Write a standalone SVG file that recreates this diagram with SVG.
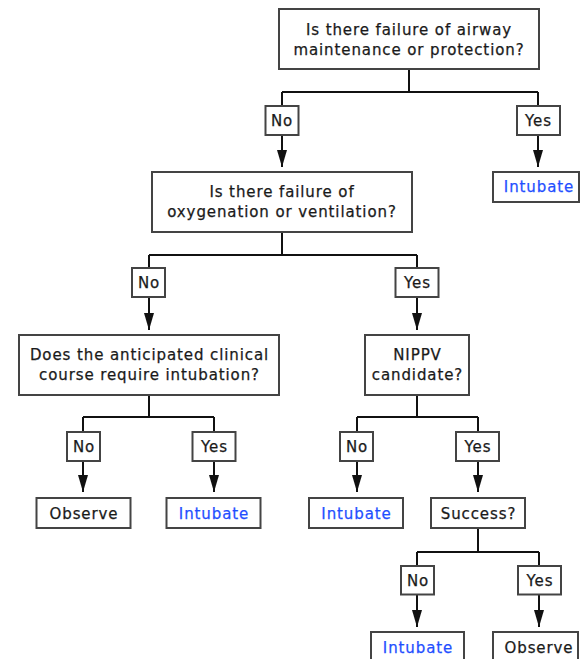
<svg xmlns="http://www.w3.org/2000/svg" width="582" height="659" viewBox="0 0 582 659">
<style>
  .box { fill: #fff; stroke: #444; stroke-width: 2; }
  .t { font-family: "DejaVu Sans", Verdana, sans-serif; font-size: 15px; letter-spacing: 0.9px; fill: #1a1a1a; stroke: #1a1a1a; stroke-width: 0.25px; text-anchor: middle; }
  .blue { fill: #1f4fff; stroke: #1f4fff; }
  .c { fill: none; stroke: #111; stroke-width: 2; }
  .a { fill: none; stroke: #111; stroke-width: 2; marker-end: url(#ah); }
</style>
<defs>
  <marker id="ah" viewBox="0 0 17 10" refX="17" refY="5" markerWidth="17" markerHeight="10" markerUnits="userSpaceOnUse" orient="auto">
    <path d="M0,0 L17,5 L0,10 z" fill="#111"/>
  </marker>
</defs>
<rect width="582" height="659" fill="#fff"/>
<g id="connectors">
  <path class="c" d="M409,69 V92 M282,92 H538 M282,92 V106 M538,92 V106"/>
  <path class="a" d="M282,135 V167"/>
  <path class="a" d="M538,135 V167"/>
  <path class="c" d="M282,232 V255 M149,255 H417 M149,255 V268 M417,255 V268"/>
  <path class="a" d="M149,297 V330"/>
  <path class="a" d="M417,297 V330"/>
  <path class="c" d="M149,395 V417 M83,417 H214 M83,417 V432 M214,417 V432"/>
  <path class="a" d="M83,461 V492"/>
  <path class="a" d="M214,461 V492"/>
  <path class="c" d="M417,395 V417 M357,417 H478 M357,417 V432 M478,417 V432"/>
  <path class="a" d="M357,461 V492"/>
  <path class="a" d="M478,461 V492"/>
  <path class="c" d="M478,528 V552 M417,552 H539 M417,552 V566 M539,552 V566"/>
  <path class="a" d="M417,594 V627"/>
  <path class="a" d="M539,594 V627"/>
</g>
<g id="q1">
  <rect class="box" x="279" y="9" width="260" height="60"/>
  <text class="t" x="409" y="35">Is there failure of airway</text>
  <text class="t" x="409" y="55">maintenance or protection?</text>
</g>
<g id="l1no"><rect class="box" x="265.5" y="106" width="33" height="29"/><text class="t" x="282" y="125.5">No</text></g>
<g id="l1yes"><rect class="box" x="517" y="106" width="43" height="29"/><text class="t" x="538.5" y="125.5">Yes</text></g>
<g id="r1">
  <rect class="box" x="493" y="172" width="86" height="30"/>
  <text class="t blue" x="539" y="192">Intubate</text>
</g>
<g id="q2">
  <rect class="box" x="152" y="172" width="260" height="60"/>
  <text class="t" x="282" y="197">Is there failure of</text>
  <text class="t" x="282" y="217">oxygenation or ventilation?</text>
</g>
<g id="l2no"><rect class="box" x="132" y="268" width="33" height="29"/><text class="t" x="149" y="288">No</text></g>
<g id="l2yes"><rect class="box" x="395.5" y="268" width="43" height="29"/><text class="t" x="417.5" y="288">Yes</text></g>
<g id="q3">
  <rect class="box" x="19" y="335" width="260" height="60"/>
  <text class="t" x="149.5" y="360">Does the anticipated clinical</text>
  <text class="t" x="149.5" y="380">course require intubation?</text>
</g>
<g id="q4">
  <rect class="box" x="365" y="335" width="104" height="60"/>
  <text class="t" x="417.5" y="360">NIPPV</text>
  <text class="t" x="417.5" y="380">candidate?</text>
</g>
<g id="l3no"><rect class="box" x="67" y="432" width="33" height="29"/><text class="t" x="84" y="452">No</text></g>
<g id="l3yes"><rect class="box" x="192.5" y="432" width="43" height="29"/><text class="t" x="214.5" y="452">Yes</text></g>
<g id="l4no"><rect class="box" x="340" y="432" width="33" height="29"/><text class="t" x="357" y="452">No</text></g>
<g id="l4yes"><rect class="box" x="456" y="432" width="43" height="29"/><text class="t" x="478" y="452">Yes</text></g>
<g id="r2"><rect class="box" x="36.5" y="498" width="94" height="30"/><text class="t" x="84" y="518.5">Observe</text></g>
<g id="r3"><rect class="box" x="166.5" y="498" width="94" height="30"/><text class="t blue" x="214" y="518.5">Intubate</text></g>
<g id="r4"><rect class="box" x="309" y="498" width="94" height="30"/><text class="t blue" x="356.5" y="518.5">Intubate</text></g>
<g id="q5"><rect class="box" x="431" y="498" width="94" height="30"/><text class="t" x="478.5" y="518.5">Success?</text></g>
<g id="l5no"><rect class="box" x="401" y="566" width="33" height="28.5"/><text class="t" x="418" y="585.5">No</text></g>
<g id="l5yes"><rect class="box" x="518" y="566" width="43" height="28.5"/><text class="t" x="540" y="585.5">Yes</text></g>
<g id="r5"><rect class="box" x="371" y="632" width="93" height="40"/><text class="t blue" x="418" y="653">Intubate</text></g>
<g id="r6"><rect class="box" x="493" y="632" width="85" height="40"/><text class="t" x="539" y="653">Observe</text></g>
</svg>
